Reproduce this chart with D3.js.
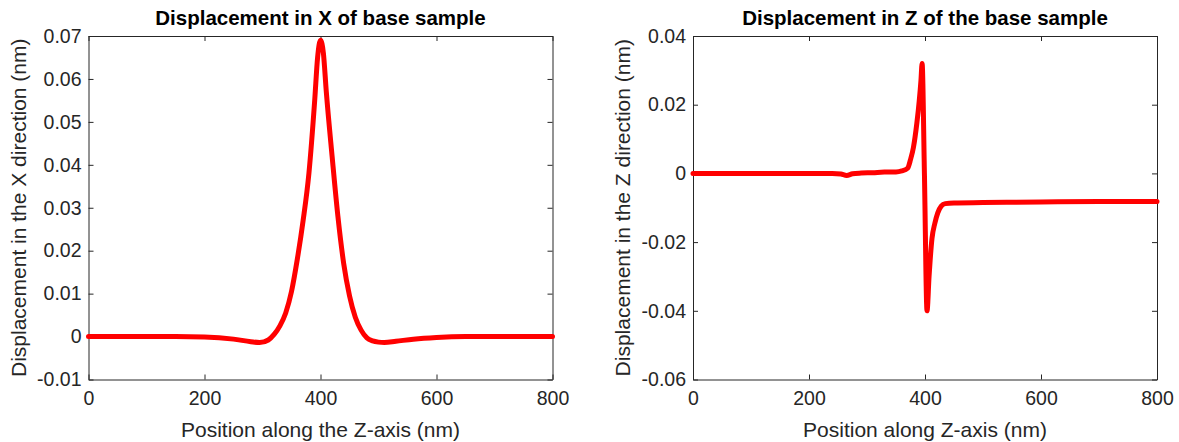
<!DOCTYPE html>
<html>
<head>
<meta charset="utf-8">
<script src="https://cdn.jsdelivr.net/npm/d3@7"></script>
<style>
  body { margin: 0; background: #fff; }
  text { font-family: "Liberation Sans", Arial, sans-serif; }
</style>
</head>
<body>
<div class="canvas"></div>
<script>

// data
const posX = [0, 50, 100, 150, 200, 250, 280, 295, 310, 320, 330, 340, 350, 360, 370, 380, 390, 395, 400, 405, 410, 420, 430, 440, 450, 460, 470, 480, 490, 500, 510, 530, 560, 600, 650, 700, 800];
const dispX = [0, 0, 0, 0, -0.0001, -0.0006, -0.0012, -0.0014, -0.0008, 0.0005, 0.0025, 0.0055, 0.0105, 0.018, 0.027, 0.038, 0.055, 0.065, 0.069, 0.066, 0.057, 0.042, 0.028, 0.017, 0.0095, 0.0045, 0.0015, -0.0003, -0.001, -0.0013, -0.0014, -0.0011, -0.0006, -0.0002, 0, 0, 0];

const posZ = [0, 100, 200, 240, 255, 265, 275, 290, 310, 330, 350, 360, 370, 375, 380, 386, 390, 393, 395, 399, 403.5, 407, 412, 417, 422, 428, 435, 450, 500, 600, 700, 800];
const dispZ = [0, 0, 0, 0, -0.0002, -0.0006, -0.0001, 0.0001, 0.0002, 0.0004, 0.0004, 0.0007, 0.0015, 0.004, 0.0075, 0.0147, 0.021, 0.027, 0.032, 0, -0.040, -0.030, -0.019, -0.0145, -0.0115, -0.0095, -0.0088, -0.0086, -0.0085, -0.0083, -0.0082, -0.0082];

const xTicks = [0, 200, 400, 600, 800];
const yTicksX = [-0.01, 0, 0.01, 0.02, 0.03, 0.04, 0.05, 0.06, 0.07];
const yTicksZ = [-0.06, -0.04, -0.02, 0, 0.02, 0.04];

const width = 1179, height = 442;
const svg = d3.select('.canvas')
    .append('svg')
        .attr('width', width)
        .attr('height', height);

const axisColor = '#262626';
const fmt = d => String(+d.toFixed(2));

const drawPanel = (cfg) => {
    const graph = svg.append('g')
        .attr('transform', `translate(${cfg.left}, 36)`);
    const w = 464, h = 343.5;

    const x = d3.scaleLinear().domain([0, 800]).range([0, w]);
    const y = d3.scaleLinear().domain(cfg.yDomain).range([h, 0]);

    // axes: ticks point inward, box on all four sides
    const bottom = graph.append('g')
        .attr('transform', `translate(0, ${h})`)
        .call(d3.axisBottom(x).tickValues(xTicks).tickSize(-5).tickSizeOuter(0).tickPadding(12).tickFormat(d => d));
    const left = graph.append('g')
        .call(d3.axisLeft(y).tickValues(cfg.yTicks).tickSize(-5).tickSizeOuter(0).tickPadding(7).tickFormat(fmt));
    const top = graph.append('g')
        .call(d3.axisTop(x).tickValues(xTicks).tickSize(-5).tickSizeOuter(0).tickFormat(''));
    const right = graph.append('g')
        .attr('transform', `translate(${w}, 0)`)
        .call(d3.axisRight(y).tickValues(cfg.yTicks).tickSize(-5).tickSizeOuter(0).tickFormat(''));

    [bottom, left, top, right].forEach(g => {
        g.selectAll('path, line').attr('stroke', axisColor);
        g.selectAll('text')
            .attr('fill', axisColor)
            .style('font-size', '19.5px');
    });

    // line
    const line = d3.line()
        .x(d => x(d[0]))
        .y(d => y(d[1]))
        .curve(d3.curveMonotoneX);

    graph.append('path')
        .datum(d3.zip(cfg.pos, cfg.vals))
        .attr('fill', 'none')
        .attr('stroke', '#ff0000')
        .attr('stroke-width', 5)
        .attr('stroke-linejoin', 'round')
        .attr('stroke-linecap', 'round')
        .attr('d', line);

    // title and labels
    graph.append('text')
        .attr('x', w / 2)
        .attr('y', -11)
        .attr('text-anchor', 'middle')
        .attr('fill', '#000')
        .style('font-size', '20.5px')
        .style('font-weight', 'bold')
        .text(cfg.title);

    graph.append('text')
        .attr('x', w / 2)
        .attr('y', h + 57)
        .attr('text-anchor', 'middle')
        .attr('fill', axisColor)
        .style('font-size', '21px')
        .text(cfg.xLabel);

    graph.append('text')
        .attr('transform', `translate(-63, ${h / 2}) rotate(-90)`)
        .attr('text-anchor', 'middle')
        .attr('fill', axisColor)
        .style('font-size', '21px')
        .text(cfg.yLabel);
};

drawPanel({
    left: 88.5,
    pos: posX, vals: dispX,
    yDomain: [-0.01, 0.07], yTicks: yTicksX,
    title: 'Displacement in X of base sample',
    xLabel: 'Position along the Z-axis (nm)',
    yLabel: 'Displacement in the X direction (nm)'
});

drawPanel({
    left: 693,
    pos: posZ, vals: dispZ,
    yDomain: [-0.06, 0.04], yTicks: yTicksZ,
    title: 'Displacement in Z of the base sample',
    xLabel: 'Position along Z-axis (nm)',
    yLabel: 'Displacement in the Z direction (nm)'
});

</script>
</body>
</html>
